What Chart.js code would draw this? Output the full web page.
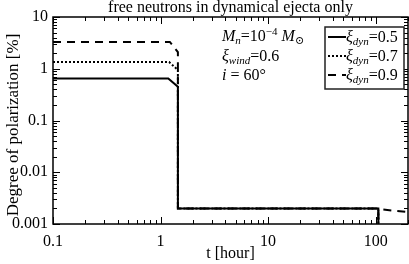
<!DOCTYPE html>
<html>
<head>
<meta charset="utf-8">
<script src="https://cdn.jsdelivr.net/npm/chart.js@4.4.0/dist/chart.umd.min.js"></script>
<style>
html,body{margin:0;padding:0;background:#fff;}
#wrap{width:409px;height:264px;position:relative;}
</style>
</head>
<body>
<div id="wrap"><canvas id="c"></canvas></div>
<script>
// ---- data ----
const tSolid  = [0.1, 1.18, 1.45, 1.45, 106, 106];
const pSolid  = [0.65, 0.65, 0.45, 0.002, 0.002, 0.0001];
const tDotted = [0.1, 1.2, 1.45, 1.45, 106, 106];
const pDotted = [1.35, 1.35, 0.95, 0.002, 0.002, 0.0001];
const tDashed = [0.1, 1.22, 1.45, 1.45, 106, 106, 112, 118, 200];
const pDashed = [3.3, 3.3, 2.1, 0.002, 0.002, 0.0001, null, 0.0019, 0.0017];
const seriesLabels = ['0.5', '0.7', '0.9'];
const xTickValues = [0.1, 1, 10, 100];
const xTickLabels = ['0.1', '1', '10', '100'];
const yTickValues = [0.001, 0.01, 0.1, 1, 10];
const yTickLabels = ['0.001', '0.01', '0.1', '1', '10'];
const titleText = 'free neutrons in dynamical ejecta only';
const xTitle = 't [hour]';
const yTitle = 'Degree of polarization [%]';

const FONT = '"Liberation Serif", "DejaVu Serif", serif';
const toPts = (xs, ys) => xs.map((x, i) => ({x: x, y: ys[i]}));

const dashStyles = [[], [2, 2], [8, 6]];

function drawRich(ctx, x, y, segs) {
  let cx = x;
  for (const s of segs) {
    ctx.font = (s.i ? 'italic ' : '') + s.size + 'px ' + FONT;
    ctx.fillText(s.t, cx, y + (s.dy || 0));
    cx += ctx.measureText(s.t).width + (s.gap || 0);
  }
  return cx;
}

const framePlugin = {
  id: 'frame',
  afterDraw(chart) {
    const ctx = chart.ctx;
    const a = chart.chartArea;
    const xs = chart.scales.x, ys = chart.scales.y;
    ctx.save();
    ctx.strokeStyle = '#000';
    ctx.fillStyle = '#000';
    // frame
    ctx.lineWidth = 1.5;
    ctx.strokeRect(a.left, a.top, a.right - a.left, a.bottom - a.top);
    // ticks
    ctx.lineWidth = 1;
    ctx.beginPath();
    for (let d = -1; d <= 2; d++) {
      for (let m = 1; m <= 9; m++) {
        const v = m * Math.pow(10, d);
        if (v < 0.1 || v > 200) continue;
        const px = Math.round(xs.getPixelForValue(v)) + 0.5;
        const L = m === 1 ? 7 : 4;
        ctx.moveTo(px, a.bottom); ctx.lineTo(px, a.bottom - L);
        ctx.moveTo(px, a.top); ctx.lineTo(px, a.top + L);
      }
    }
    for (let d = -3; d <= 1; d++) {
      for (let m = 1; m <= 9; m++) {
        const v = m * Math.pow(10, d);
        if (v < 0.001 || v > 10) continue;
        const py = Math.round(ys.getPixelForValue(v)) + 0.5;
        const L = m === 1 ? 7 : 4;
        ctx.moveTo(a.left, py); ctx.lineTo(a.left + L, py);
        ctx.moveTo(a.right, py); ctx.lineTo(a.right - L, py);
      }
    }
    ctx.stroke();

    // title
    ctx.textBaseline = 'alphabetic';
    ctx.textAlign = 'center';
    ctx.font = '16px ' + FONT;
    ctx.fillText(titleText, (a.left + a.right) / 2, 12);
    // x title
    ctx.fillText(xTitle, (a.left + a.right) / 2, 258);
    // y title
    ctx.save();
    ctx.translate(18, 125);
    ctx.rotate(-Math.PI / 2);
    ctx.font = '17px ' + FONT;
    ctx.fillText(yTitle, 0, 0);
    ctx.restore();

    // annotation
    ctx.textAlign = 'left';
    const ax = 222;
    drawRich(ctx, ax, 41, [
      {t: 'M', i: true, size: 16},
      {t: 'n', i: true, size: 11, dy: 3},
      {t: '=10', size: 16},
      {t: '\u22124', size: 11, dy: -6, gap: 4},
      {t: 'M', i: true, size: 16},
      {t: '\u2299', size: 11, dy: 3}
    ]);
    drawRich(ctx, ax, 61, [
      {t: '\u03be', i: true, size: 16},
      {t: 'wind', i: true, size: 11, dy: 3},
      {t: '=0.6', size: 16}
    ]);
    drawRich(ctx, ax, 80, [
      {t: 'i', i: true, size: 16},
      {t: ' = 60\u00b0', size: 16}
    ]);

    // legend
    const lx = 325, ly = 27, lw = 79, lh = 62;
    ctx.fillStyle = '#fff';
    ctx.fillRect(lx, ly, lw, lh);
    ctx.lineWidth = 1.5;
    ctx.strokeStyle = '#222';
    ctx.strokeRect(lx, ly, lw, lh);
    ctx.fillStyle = '#000';
    ctx.strokeStyle = '#000';
    for (let i = 0; i < 3; i++) {
      const yy = 37 + i * 19;
      ctx.save();
      ctx.lineWidth = 2;
      ctx.setLineDash(dashStyles[i]);
      ctx.beginPath();
      ctx.moveTo(lx + 3, yy);
      ctx.lineTo(lx + 21, yy);
      ctx.stroke();
      ctx.restore();
      drawRich(ctx, lx + 21, yy + 5, [
        {t: '\u03be', i: true, size: 16},
        {t: 'dyn', i: true, size: 11, dy: 3},
        {t: '=' + seriesLabels[i], size: 16}
      ]);
    }
    ctx.restore();
  }
};

new Chart(document.getElementById('c'), {
  type: 'line',
  data: {
    datasets: [
      {label: '0.5', data: toPts(tSolid, pSolid), borderColor: '#000', borderWidth: 2, borderDash: dashStyles[0]},
      {label: '0.7', data: toPts(tDotted, pDotted), borderColor: '#000', borderWidth: 2, borderDash: dashStyles[1]},
      {label: '0.9', data: toPts(tDashed, pDashed), borderColor: '#000', borderWidth: 2, borderDash: dashStyles[2]}
    ]
  },
  options: {
    responsive: true,
    maintainAspectRatio: false,
    animation: false,
    spanGaps: false,
    elements: {point: {radius: 0}, line: {tension: 0}},
    layout: {padding: {top: 17, right: 1, left: 0, bottom: 0}},
    plugins: {legend: {display: false}, tooltip: {enabled: false}, title: {display: false}},
    scales: {
      x: {
        type: 'logarithmic', min: 0.1, max: 200,
        grid: {display: false, drawTicks: false}, border: {display: false},
        afterBuildTicks: s => { s.ticks = xTickValues.map(v => ({value: v})); },
        afterFit: s => { s.height = 40; },
        ticks: {
          color: '#000', font: {family: FONT, size: 16}, padding: 8, maxRotation: 0, autoSkip: false,
          callback: (v) => { const i = xTickValues.indexOf(v); return i >= 0 ? xTickLabels[i] : ''; }
        }
      },
      y: {
        type: 'logarithmic', min: 0.001, max: 10,
        grid: {display: false, drawTicks: false}, border: {display: false},
        afterBuildTicks: s => { s.ticks = yTickValues.map(v => ({value: v})); },
        afterFit: s => { s.width = 53; },
        ticks: {
          color: '#000', font: {family: FONT, size: 16}, padding: 5, autoSkip: false,
          callback: (v) => { const i = yTickValues.indexOf(v); return i >= 0 ? yTickLabels[i] : ''; }
        }
      }
    }
  },
  plugins: [framePlugin]
});
</script>
</body>
</html>
